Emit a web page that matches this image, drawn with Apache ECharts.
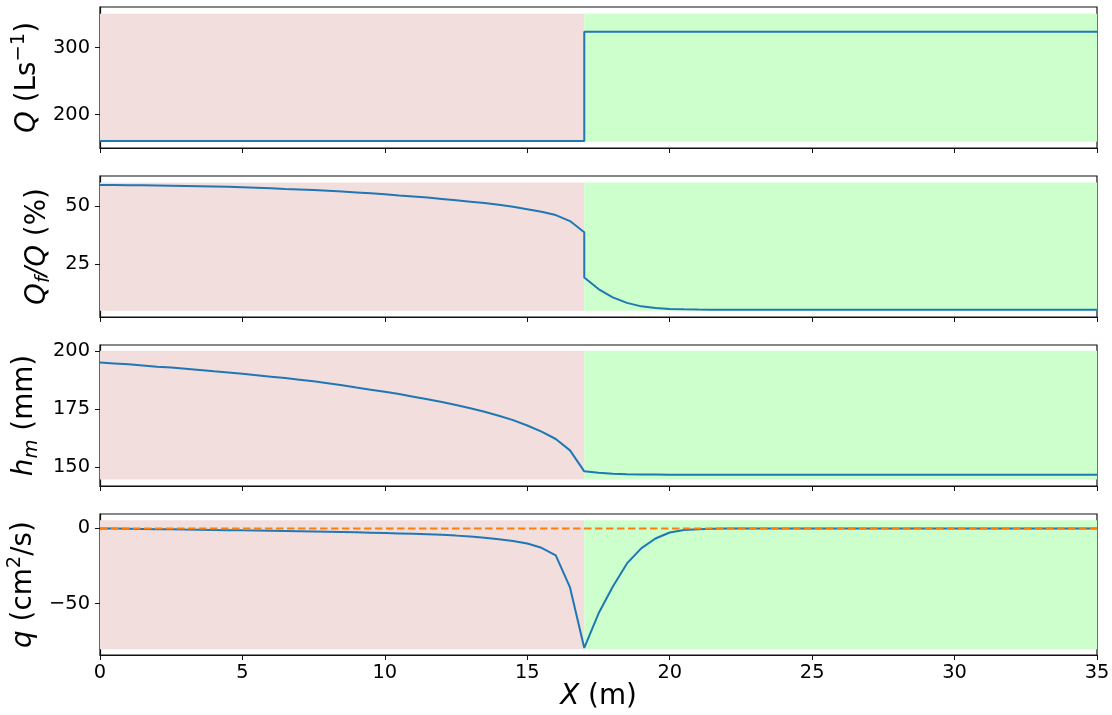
<!DOCTYPE html>
<html>
<head>
<meta charset="utf-8">
<script src="https://cdn.jsdelivr.net/npm/echarts@6/dist/echarts.min.js"></script>
<style>
html,body{margin:0;padding:0;background:#fff;}
#chart{width:1112px;height:715px;}
</style>
</head>
<body>
<div id="chart"></div>
<script>
// ---------------- data ----------------
const xsLeft = [0,0.5,1,1.5,2,2.5,3,3.5,4,4.5,5,5.5,6,6.5,7,7.5,8,8.5,9,9.5,10,10.5,11,11.5,12,12.5,13,13.5,14,14.5,15,15.5,16,16.5,17];
const xsRight = [17,17.5,18,18.5,19,19.5,20,20.5,21,21.5,22,22.5,23,23.5,24,24.5,25,25.5,26,26.5,27,27.5,28,28.5,29,29.5,30,30.5,31,31.5,32,32.5,33,33.5,34,34.5,35];

// Q (L/s)
const QLeft = [160.4,160.4,160.4,160.4,160.4,160.4,160.4,160.4,160.4,160.4,160.4,160.4,160.4,160.4,160.4,160.4,160.4,160.4,160.4,160.4,160.4,160.4,160.4,160.4,160.4,160.4,160.4,160.4,160.4,160.4,160.4,160.4,160.4,160.4,160.4];
const QRight = [323.5,323.5,323.5,323.5,323.5,323.5,323.5,323.5,323.5,323.5,323.5,323.5,323.5,323.5,323.5,323.5,323.5,323.5,323.5,323.5,323.5,323.5,323.5,323.5,323.5,323.5,323.5,323.5,323.5,323.5,323.5,323.5,323.5,323.5,323.5,323.5,323.5];

// Qf/Q (%)
const QfLeft = [59.1,59.1,59.05,59.0,58.9,58.8,58.7,58.6,58.45,58.3,58.1,57.9,57.7,57.4,57.15,56.9,56.6,56.25,55.9,55.5,55.1,54.6,54.15,53.7,53.1,52.5,51.9,51.3,50.6,49.7,48.6,47.5,46.1,43.5,38.7];
const QfRight = [19.1,14.1,10.5,8.1,6.6,5.9,5.5,5.3,5.2,5.15,5.1,5.1,5.1,5.1,5.1,5.1,5.1,5.1,5.1,5.1,5.1,5.1,5.1,5.1,5.1,5.1,5.1,5.1,5.1,5.1,5.1,5.1,5.1,5.1,5.1,5.1,5.1];

// h_m (mm), x = 0..35 step 0.5
const hm = [195.1,194.7,194.3,193.8,193.3,192.9,192.4,191.9,191.3,190.8,190.2,189.6,189.0,188.4,187.7,187.0,186.2,185.3,184.3,183.4,182.5,181.5,180.4,179.3,178.1,176.8,175.4,173.9,172.2,170.3,168.0,165.4,162.2,157.3,148.3,
  147.7,147.3,147.1,146.95,146.9,146.85,146.8,146.8,146.8,146.8,146.8,146.8,146.8,146.8,146.8,146.8,146.8,146.8,146.8,146.8,146.8,146.8,146.8,146.8,146.8,146.8,146.8,146.8,146.8,146.8,146.8,146.8,146.8,146.8,146.8,146.8];

// q (cm2/s), x = 0..35 step 0.5
const qv = [0,-0.1,-0.2,-0.35,-0.5,-0.6,-0.75,-0.85,-1.0,-1.15,-1.3,-1.4,-1.55,-1.7,-1.85,-2.0,-2.2,-2.4,-2.6,-2.85,-3.1,-3.35,-3.6,-3.9,-4.3,-4.8,-5.4,-6.2,-7.2,-8.4,-10.0,-12.9,-18.0,-39.3,-79.6,
  -56.7,-38.9,-23.3,-13.3,-6.7,-2.7,-1.1,-0.5,-0.2,-0.1,0,0,0,0,0,0,0,0,0,0,0,0,0,0,0,0,0,0,0,0,0,0,0,0,0,0];

const zeroX = [0,35];
const zeroY = [0,0];

// region split and shaded ranges [low, high] per panel
const xRegions = [[0,17],[17,35]];
const shadeRanges = [[159.5,350.5],[4.7,60.2],[144.8,200.1],[-80.5,5.5]];
// axis limits per panel
const yLimits = [[150,360.5],[2.0,63.0],[142.0,202.6],[-84.3,9.6]];
const yTickLabels = [[200,300],[25,50],[150,175,200],[-50,0]];

// ---------------- build ----------------
const xsAll = xsLeft.concat(xsRight.slice(1));
const zip = (xs, ys) => xs.map((x, i) => [x, ys[i]]);
const panelData = [
  zip(xsLeft, QLeft).concat(zip(xsRight, QRight)),
  zip(xsLeft, QfLeft).concat(zip(xsRight, QfRight)),
  zip(xsAll, hm),
  zip(xsAll, qv)
];

const FONT = 'DejaVu Sans';
const NAME_FS = 27.8, TICK_FS = 19.4, SMALL_FS = 19.5;
const tops = [7, 176, 345, 514];
const H = 141;
const names = [
  '{i|Q}{n| (Ls}{sup|−1}{n|)}',
  '{i|Q}{sub|f}{i|/Q}{n| (%)}',
  '{i|h}{sub|m}{n| (mm)}',
  '{i|q}{n| (cm}{sup2|2}{n|/s)}'
];
const nameGaps = [49, 34, 54, 52];
const base = {fontSize: NAME_FS, fontFamily: FONT, color: '#000', verticalAlign: 'middle'};
const rich = {
  n: Object.assign({}, base),
  i: Object.assign({}, base, {fontStyle: 'italic'}),
  sub: {fontStyle: 'italic', fontSize: SMALL_FS, fontFamily: FONT, color: '#000', verticalAlign: 'bottom', padding: [14, 0, 0, 0]},
  sup: {fontSize: SMALL_FS, fontFamily: FONT, color: '#000', verticalAlign: 'top', padding: [0, 0, 18, 0]},
  sup2: {fontSize: SMALL_FS, fontFamily: FONT, color: '#000', verticalAlign: 'top', padding: [0, 0, 19, 0]}
};
const minusFmt = v => String(v).replace('-', '\u2212');

const grid = [], xAxis = [], yAxis = [], series = [];
for (let p = 0; p < 4; p++) {
  grid.push({left: 100, width: 997, top: tops[p], height: H, show: true, borderColor: '#111', borderWidth: 1.2,
    backgroundColor: 'transparent', containLabel: false, outerBoundsMode: 'none'});
  const isLast = p === 3;
  xAxis.push({
    type: 'value', gridIndex: p, min: 0, max: 35, interval: 5,
    axisLine: {show: true, onZero: false, lineStyle: {color: '#111', width: 1.2}},
    axisTick: {show: true, length: 5, inside: false, lineStyle: {color: '#111', width: 1}},
    axisLabel: {show: isLast, fontSize: TICK_FS, fontFamily: FONT, color: '#000', margin: 8},
    splitLine: {show: false},
    name: isLast ? '{i|X}{n| (m)}' : '',
    nameLocation: 'middle', nameGap: 22,
    nameTextStyle: {fontSize: NAME_FS, fontFamily: FONT, color: '#000', rich: rich}
  });
  yAxis.push({
    type: 'value', gridIndex: p, min: yLimits[p][0], max: yLimits[p][1],
    axisLine: {show: true, onZero: false, lineStyle: {color: '#111', width: 1.2}},
    axisTick: {show: true, length: 5, inside: false, customValues: yTickLabels[p], lineStyle: {color: '#111', width: 1}},
    axisLabel: {fontSize: TICK_FS, fontFamily: FONT, color: '#000', margin: 10, customValues: yTickLabels[p], formatter: minusFmt},
    splitLine: {show: false},
    name: names[p], nameLocation: 'middle', nameRotate: 90, nameGap: nameGaps[p],
    nameTextStyle: {fontSize: NAME_FS, fontFamily: FONT, color: '#000', rich: rich}
  });
  const lo = shadeRanges[p][0], hi = shadeRanges[p][1];
  series.push({
    type: 'line', xAxisIndex: p, yAxisIndex: p, data: [], z: 1, silent: true,
    markArea: {
      silent: true,
      label: {show: false},
      data: [
        [{coord: [xRegions[0][0], lo], itemStyle: {color: '#f3dede'}}, {coord: [xRegions[0][1], hi]}],
        [{coord: [xRegions[1][0], lo], itemStyle: {color: '#ccffcc'}}, {coord: [xRegions[1][1], hi]}]
      ]
    }
  });
  series.push({
    type: 'line', xAxisIndex: p, yAxisIndex: p, data: panelData[p], z: 3,
    showSymbol: false, symbol: 'none', silent: true,
    lineStyle: {color: '#1f77b4', width: 2}
  });
}
series.push({
  type: 'line', xAxisIndex: 3, yAxisIndex: 3, data: zip(zeroX, zeroY), z: 4,
  symbol: 'none', silent: true,
  lineStyle: {color: '#ff7f0e', width: 2, type: [7.5, 3.5]}
});

const chart = echarts.init(document.getElementById('chart'), null, {renderer: 'canvas'});
chart.setOption({
  animation: false,
  backgroundColor: '#fff',
  grid, xAxis, yAxis, series
});
</script>
</body>
</html>
